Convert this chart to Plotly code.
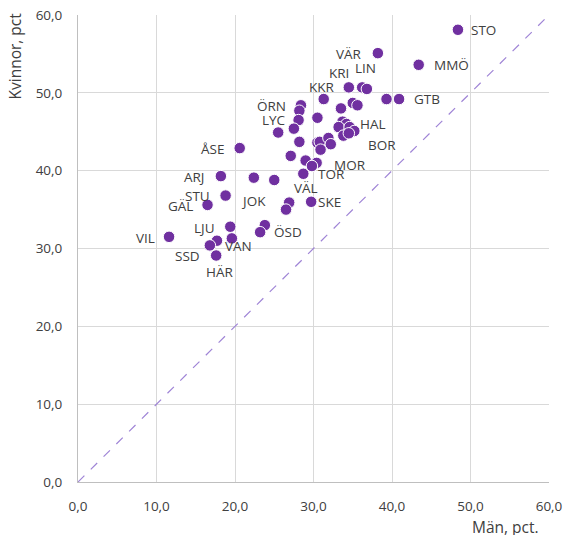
import plotly.graph_objects as go

# Men (%) and women (%) per unit; label "" means unlabeled point
men = [48.4, 38.2, 43.4, 34.5, 36.2, 36.8, 31.3, 39.3, 40.9, 35.0, 35.6, 33.5,
       28.4, 28.2, 30.5, 28.1, 27.5, 25.5, 33.7, 34.2, 33.2, 34.6, 35.2, 33.8,
       34.5, 20.6, 28.2, 30.5, 30.8, 31.9, 32.2, 30.9, 27.1, 29.0, 30.4, 29.8,
       18.2, 22.4, 25.0, 28.7, 18.8, 16.5, 26.9, 26.5, 29.7, 23.8, 23.2, 19.4,
       11.6, 19.6, 17.7, 16.8, 17.6]
women = [58.1, 55.1, 53.6, 50.7, 50.7, 50.5, 49.2, 49.2, 49.2, 48.7, 48.4, 48.0,
         48.4, 47.7, 46.8, 46.5, 45.4, 44.9, 46.3, 46.0, 45.6, 45.6, 45.1, 44.5,
         44.8, 42.9, 43.7, 43.6, 43.7, 44.2, 43.4, 42.7, 41.9, 41.3, 41.0, 40.6,
         39.3, 39.1, 38.8, 39.6, 36.8, 35.6, 35.9, 35.0, 36.0, 33.0, 32.1, 32.8,
         31.5, 31.3, 31.0, 30.4, 29.1]
labels = ["STO", "VÄR", "MMÖ", "KRI", "LIN", "", "KKR", "", "GTB", "", "", "",
          "ÖRN", "", "", "LYC", "", "", "", "", "", "", "HAL", "BOR",
          "", "ÅSE", "", "", "", "", "", "", "", "", "MOR", "",
          "ARJ", "", "", "TOR", "STU", "GÄL", "VÄL", "JOK", "SKE", "", "ÖSD", "LJU",
          "VIL", "VAN", "", "SSD", "HÄR"]

x_ticks = [0, 10, 20, 30, 40, 50, 60]
y_ticks = [0, 10, 20, 30, 40, 50, 60]
tick_text = ["0,0", "10,0", "20,0", "30,0", "40,0", "50,0", "60,0"]
diag = [0, 60]

# label pixel offsets (x right, y down) relative to the point
offsets = {
    "STO": (26, 0), "VÄR": (-29, 1), "MMÖ": (33, 0), "KRI": (-10, -14),
    "LIN": (3, -19), "KKR": (-2, -12), "GTB": (28, 0), "ÖRN": (-29, 1),
    "LYC": (-25, 0), "HAL": (19, -7), "BOR": (39, 9), "ÅSE": (-27, 1),
    "MOR": (33, 2), "ARJ": (-26, 1), "TOR": (28, 0), "STU": (-28, 0),
    "GÄL": (-27, 1), "VÄL": (17, -15), "JOK": (-33, -9), "SKE": (18, 0),
    "ÖSD": (28, 0), "LJU": (-26, 1), "VIL": (-24, 1), "VAN": (7, 8),
    "SSD": (-22, 11), "HÄR": (3, 16),
}

FONT = "Open Sans"
GREY = "#404040"

fig = go.Figure()
fig.add_trace(go.Scatter(
    x=diag, y=diag, mode="lines",
    line=dict(color="#9F84D6", width=1.2, dash="dash"),
    hoverinfo="skip", showlegend=False))
fig.add_trace(go.Scatter(
    x=men, y=women, mode="markers",
    marker=dict(color="#7030A0", size=11.5, line=dict(color="white", width=1)),
    showlegend=False))

for xv, yv, lab in zip(men, women, labels):
    if not lab:
        continue
    dx, dy = offsets[lab]
    fig.add_annotation(x=xv, y=yv, text=lab, showarrow=False,
                       xshift=dx, yshift=-dy,
                       font=dict(family=FONT, size=13.5, color=GREY))

fig.add_annotation(xref="paper", yref="paper", x=1.0, y=0, yshift=-45,
                   text="Män, pct.", showarrow=False, xanchor="right",
                   yanchor="middle", xshift=-8,
                   font=dict(family=FONT, size=15.5, color=GREY))
fig.add_annotation(xref="paper", yref="paper", x=0, y=1, xshift=-64,
                   text="Kvinnor, pct", showarrow=False, textangle=-90,
                   xanchor="center", yanchor="top", yshift=4,
                   font=dict(family=FONT, size=15.5, color=GREY))

axis_common = dict(
    range=[0, 60], tickvals=x_ticks, ticktext=tick_text,
    showgrid=True, gridcolor="#D9D9D9", gridwidth=1,
    showline=True, linecolor="#BFBFBF", linewidth=1,
    zeroline=False, ticks="", fixedrange=True, automargin=False,
    tickfont=dict(family=FONT, size=13.5, color=GREY),
)
fig.update_xaxes(**axis_common, ticklabelstandoff=12)
fig.update_yaxes(**axis_common, ticklabelstandoff=12)

fig.update_layout(
    width=564, height=535,
    margin=dict(l=78, r=15, t=15, b=53),
    plot_bgcolor="white", paper_bgcolor="white",
    hovermode="closest",
)

fig.write_html("out.html",
               config={"displayModeBar": False},
               post_script="document.body.style.margin='0';"
                           "document.body.style.overflow='hidden';")
